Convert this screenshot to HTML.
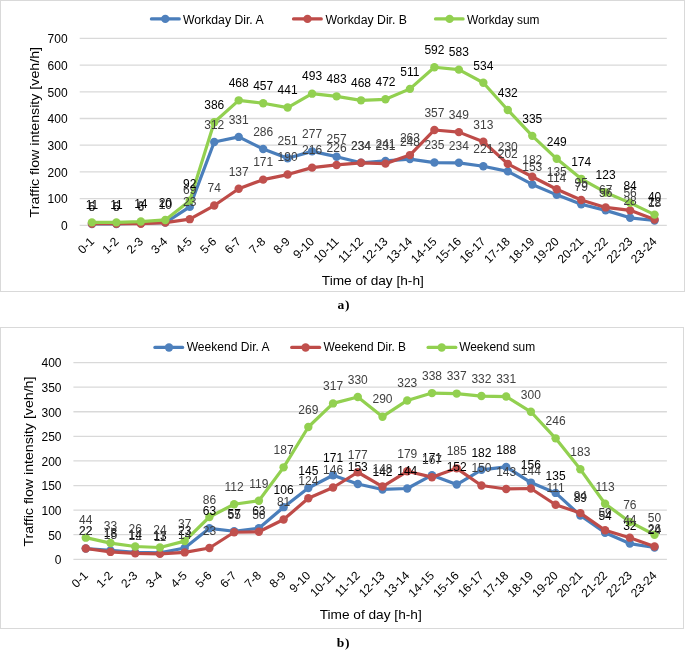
<!DOCTYPE html><html><head><meta charset="utf-8"><title>Traffic flow charts</title>
<style>html,body{margin:0;padding:0;background:#fff;}svg{display:block;will-change:transform;}</style></head><body>
<svg width="685" height="650" viewBox="0 0 685 650" font-family='"Liberation Sans", sans-serif'>
<rect x="0" y="0" width="685" height="650" fill="#fff"/>
<rect x="0.5" y="0.5" width="684" height="291" fill="none" stroke="#D9D9D9" stroke-width="1"/>
<rect x="0.5" y="327.5" width="683" height="301" fill="none" stroke="#D9D9D9" stroke-width="1"/>
<line x1="79.70" y1="225.30" x2="666.80" y2="225.30" stroke="#D9D9D9" stroke-width="1.3"/>
<text x="67.60" y="230.10" text-anchor="end" font-size="12.0" fill="#000">0</text>
<line x1="79.70" y1="198.60" x2="666.80" y2="198.60" stroke="#D9D9D9" stroke-width="1.3"/>
<text x="67.60" y="203.40" text-anchor="end" font-size="12.0" fill="#000">100</text>
<line x1="79.70" y1="171.90" x2="666.80" y2="171.90" stroke="#D9D9D9" stroke-width="1.3"/>
<text x="67.60" y="176.70" text-anchor="end" font-size="12.0" fill="#000">200</text>
<line x1="79.70" y1="145.20" x2="666.80" y2="145.20" stroke="#D9D9D9" stroke-width="1.3"/>
<text x="67.60" y="150.00" text-anchor="end" font-size="12.0" fill="#000">300</text>
<line x1="79.70" y1="118.50" x2="666.80" y2="118.50" stroke="#D9D9D9" stroke-width="1.3"/>
<text x="67.60" y="123.30" text-anchor="end" font-size="12.0" fill="#000">400</text>
<line x1="79.70" y1="91.80" x2="666.80" y2="91.80" stroke="#D9D9D9" stroke-width="1.3"/>
<text x="67.60" y="96.60" text-anchor="end" font-size="12.0" fill="#000">500</text>
<line x1="79.70" y1="65.10" x2="666.80" y2="65.10" stroke="#D9D9D9" stroke-width="1.3"/>
<text x="67.60" y="69.90" text-anchor="end" font-size="12.0" fill="#000">600</text>
<line x1="79.70" y1="38.40" x2="666.80" y2="38.40" stroke="#D9D9D9" stroke-width="1.3"/>
<text x="67.60" y="43.20" text-anchor="end" font-size="12.0" fill="#000">700</text>
<text transform="translate(94.93,242.30) rotate(-45)" text-anchor="end" font-size="12.0" fill="#000">0-1</text>
<text transform="translate(119.39,242.30) rotate(-45)" text-anchor="end" font-size="12.0" fill="#000">1-2</text>
<text transform="translate(143.86,242.30) rotate(-45)" text-anchor="end" font-size="12.0" fill="#000">2-3</text>
<text transform="translate(168.32,242.30) rotate(-45)" text-anchor="end" font-size="12.0" fill="#000">3-4</text>
<text transform="translate(192.78,242.30) rotate(-45)" text-anchor="end" font-size="12.0" fill="#000">4-5</text>
<text transform="translate(217.24,242.30) rotate(-45)" text-anchor="end" font-size="12.0" fill="#000">5-6</text>
<text transform="translate(241.71,242.30) rotate(-45)" text-anchor="end" font-size="12.0" fill="#000">6-7</text>
<text transform="translate(266.17,242.30) rotate(-45)" text-anchor="end" font-size="12.0" fill="#000">7-8</text>
<text transform="translate(290.63,242.30) rotate(-45)" text-anchor="end" font-size="12.0" fill="#000">8-9</text>
<text transform="translate(315.09,242.30) rotate(-45)" text-anchor="end" font-size="12.0" fill="#000">9-10</text>
<text transform="translate(339.56,242.30) rotate(-45)" text-anchor="end" font-size="12.0" fill="#000">10-11</text>
<text transform="translate(364.02,242.30) rotate(-45)" text-anchor="end" font-size="12.0" fill="#000">11-12</text>
<text transform="translate(388.48,242.30) rotate(-45)" text-anchor="end" font-size="12.0" fill="#000">12-13</text>
<text transform="translate(412.94,242.30) rotate(-45)" text-anchor="end" font-size="12.0" fill="#000">13-14</text>
<text transform="translate(437.41,242.30) rotate(-45)" text-anchor="end" font-size="12.0" fill="#000">14-15</text>
<text transform="translate(461.87,242.30) rotate(-45)" text-anchor="end" font-size="12.0" fill="#000">15-16</text>
<text transform="translate(486.33,242.30) rotate(-45)" text-anchor="end" font-size="12.0" fill="#000">16-17</text>
<text transform="translate(510.79,242.30) rotate(-45)" text-anchor="end" font-size="12.0" fill="#000">17-18</text>
<text transform="translate(535.26,242.30) rotate(-45)" text-anchor="end" font-size="12.0" fill="#000">18-19</text>
<text transform="translate(559.72,242.30) rotate(-45)" text-anchor="end" font-size="12.0" fill="#000">19-20</text>
<text transform="translate(584.18,242.30) rotate(-45)" text-anchor="end" font-size="12.0" fill="#000">20-21</text>
<text transform="translate(608.64,242.30) rotate(-45)" text-anchor="end" font-size="12.0" fill="#000">21-22</text>
<text transform="translate(633.11,242.30) rotate(-45)" text-anchor="end" font-size="12.0" fill="#000">22-23</text>
<text transform="translate(657.57,242.30) rotate(-45)" text-anchor="end" font-size="12.0" fill="#000">23-24</text>
<polyline points="91.93,223.97 116.39,223.97 140.86,223.16 165.32,222.63 189.78,206.88 214.24,142.00 238.71,136.92 263.17,148.94 287.63,158.28 312.09,151.34 336.56,156.68 361.02,162.82 385.48,160.95 409.94,159.08 434.41,162.56 458.87,162.82 483.33,166.29 507.79,171.37 532.26,184.45 556.72,194.86 581.18,204.21 605.64,210.35 630.11,217.82 654.57,220.49" fill="none" stroke="#4A7EBB" stroke-width="3.2" stroke-linejoin="round" stroke-linecap="round"/>
<circle cx="91.93" cy="223.97" r="4.2" fill="#4F81BD"/>
<circle cx="116.39" cy="223.97" r="4.2" fill="#4F81BD"/>
<circle cx="140.86" cy="223.16" r="4.2" fill="#4F81BD"/>
<circle cx="165.32" cy="222.63" r="4.2" fill="#4F81BD"/>
<circle cx="189.78" cy="206.88" r="4.2" fill="#4F81BD"/>
<circle cx="214.24" cy="142.00" r="4.2" fill="#4F81BD"/>
<circle cx="238.71" cy="136.92" r="4.2" fill="#4F81BD"/>
<circle cx="263.17" cy="148.94" r="4.2" fill="#4F81BD"/>
<circle cx="287.63" cy="158.28" r="4.2" fill="#4F81BD"/>
<circle cx="312.09" cy="151.34" r="4.2" fill="#4F81BD"/>
<circle cx="336.56" cy="156.68" r="4.2" fill="#4F81BD"/>
<circle cx="361.02" cy="162.82" r="4.2" fill="#4F81BD"/>
<circle cx="385.48" cy="160.95" r="4.2" fill="#4F81BD"/>
<circle cx="409.94" cy="159.08" r="4.2" fill="#4F81BD"/>
<circle cx="434.41" cy="162.56" r="4.2" fill="#4F81BD"/>
<circle cx="458.87" cy="162.82" r="4.2" fill="#4F81BD"/>
<circle cx="483.33" cy="166.29" r="4.2" fill="#4F81BD"/>
<circle cx="507.79" cy="171.37" r="4.2" fill="#4F81BD"/>
<circle cx="532.26" cy="184.45" r="4.2" fill="#4F81BD"/>
<circle cx="556.72" cy="194.86" r="4.2" fill="#4F81BD"/>
<circle cx="581.18" cy="204.21" r="4.2" fill="#4F81BD"/>
<circle cx="605.64" cy="210.35" r="4.2" fill="#4F81BD"/>
<circle cx="630.11" cy="217.82" r="4.2" fill="#4F81BD"/>
<circle cx="654.57" cy="220.49" r="4.2" fill="#4F81BD"/>
<polyline points="91.93,223.70 116.39,223.70 140.86,223.70 165.32,222.63 189.78,219.16 214.24,205.54 238.71,188.72 263.17,179.64 287.63,174.57 312.09,167.63 336.56,164.96 361.02,162.82 385.48,163.62 409.94,155.08 434.41,129.98 458.87,132.12 483.33,141.73 507.79,163.89 532.26,176.71 556.72,189.25 581.18,199.94 605.64,207.41 630.11,210.35 654.57,219.43" fill="none" stroke="#BE4B48" stroke-width="3.2" stroke-linejoin="round" stroke-linecap="round"/>
<circle cx="91.93" cy="223.70" r="4.2" fill="#C0504D"/>
<circle cx="116.39" cy="223.70" r="4.2" fill="#C0504D"/>
<circle cx="140.86" cy="223.70" r="4.2" fill="#C0504D"/>
<circle cx="165.32" cy="222.63" r="4.2" fill="#C0504D"/>
<circle cx="189.78" cy="219.16" r="4.2" fill="#C0504D"/>
<circle cx="214.24" cy="205.54" r="4.2" fill="#C0504D"/>
<circle cx="238.71" cy="188.72" r="4.2" fill="#C0504D"/>
<circle cx="263.17" cy="179.64" r="4.2" fill="#C0504D"/>
<circle cx="287.63" cy="174.57" r="4.2" fill="#C0504D"/>
<circle cx="312.09" cy="167.63" r="4.2" fill="#C0504D"/>
<circle cx="336.56" cy="164.96" r="4.2" fill="#C0504D"/>
<circle cx="361.02" cy="162.82" r="4.2" fill="#C0504D"/>
<circle cx="385.48" cy="163.62" r="4.2" fill="#C0504D"/>
<circle cx="409.94" cy="155.08" r="4.2" fill="#C0504D"/>
<circle cx="434.41" cy="129.98" r="4.2" fill="#C0504D"/>
<circle cx="458.87" cy="132.12" r="4.2" fill="#C0504D"/>
<circle cx="483.33" cy="141.73" r="4.2" fill="#C0504D"/>
<circle cx="507.79" cy="163.89" r="4.2" fill="#C0504D"/>
<circle cx="532.26" cy="176.71" r="4.2" fill="#C0504D"/>
<circle cx="556.72" cy="189.25" r="4.2" fill="#C0504D"/>
<circle cx="581.18" cy="199.94" r="4.2" fill="#C0504D"/>
<circle cx="605.64" cy="207.41" r="4.2" fill="#C0504D"/>
<circle cx="630.11" cy="210.35" r="4.2" fill="#C0504D"/>
<circle cx="654.57" cy="219.43" r="4.2" fill="#C0504D"/>
<polyline points="91.93,222.36 116.39,222.36 140.86,221.56 165.32,219.96 189.78,200.74 214.24,122.24 238.71,100.34 263.17,103.28 287.63,107.55 312.09,93.67 336.56,96.34 361.02,100.34 385.48,99.28 409.94,88.86 434.41,67.24 458.87,69.64 483.33,82.72 507.79,109.96 532.26,135.86 556.72,158.82 581.18,178.84 605.64,192.46 630.11,202.87 654.57,214.62" fill="none" stroke="#92D050" stroke-width="3.2" stroke-linejoin="round" stroke-linecap="round"/>
<circle cx="91.93" cy="222.36" r="4.2" fill="#92D050"/>
<circle cx="116.39" cy="222.36" r="4.2" fill="#92D050"/>
<circle cx="140.86" cy="221.56" r="4.2" fill="#92D050"/>
<circle cx="165.32" cy="219.96" r="4.2" fill="#92D050"/>
<circle cx="189.78" cy="200.74" r="4.2" fill="#92D050"/>
<circle cx="214.24" cy="122.24" r="4.2" fill="#92D050"/>
<circle cx="238.71" cy="100.34" r="4.2" fill="#92D050"/>
<circle cx="263.17" cy="103.28" r="4.2" fill="#92D050"/>
<circle cx="287.63" cy="107.55" r="4.2" fill="#92D050"/>
<circle cx="312.09" cy="93.67" r="4.2" fill="#92D050"/>
<circle cx="336.56" cy="96.34" r="4.2" fill="#92D050"/>
<circle cx="361.02" cy="100.34" r="4.2" fill="#92D050"/>
<circle cx="385.48" cy="99.28" r="4.2" fill="#92D050"/>
<circle cx="409.94" cy="88.86" r="4.2" fill="#92D050"/>
<circle cx="434.41" cy="67.24" r="4.2" fill="#92D050"/>
<circle cx="458.87" cy="69.64" r="4.2" fill="#92D050"/>
<circle cx="483.33" cy="82.72" r="4.2" fill="#92D050"/>
<circle cx="507.79" cy="109.96" r="4.2" fill="#92D050"/>
<circle cx="532.26" cy="135.86" r="4.2" fill="#92D050"/>
<circle cx="556.72" cy="158.82" r="4.2" fill="#92D050"/>
<circle cx="581.18" cy="178.84" r="4.2" fill="#92D050"/>
<circle cx="605.64" cy="192.46" r="4.2" fill="#92D050"/>
<circle cx="630.11" cy="202.87" r="4.2" fill="#92D050"/>
<circle cx="654.57" cy="214.62" r="4.2" fill="#92D050"/>
<text x="91.93" y="210.77" text-anchor="middle" font-size="12.0" fill="#404040">5</text>
<text x="116.39" y="210.77" text-anchor="middle" font-size="12.0" fill="#404040">5</text>
<text x="140.86" y="209.96" text-anchor="middle" font-size="12.0" fill="#404040">8</text>
<text x="165.32" y="209.43" text-anchor="middle" font-size="12.0" fill="#404040">10</text>
<text x="189.78" y="193.68" text-anchor="middle" font-size="12.0" fill="#404040">69</text>
<text x="214.24" y="128.80" text-anchor="middle" font-size="12.0" fill="#404040">312</text>
<text x="238.71" y="123.72" text-anchor="middle" font-size="12.0" fill="#404040">331</text>
<text x="263.17" y="135.74" text-anchor="middle" font-size="12.0" fill="#404040">286</text>
<text x="287.63" y="145.08" text-anchor="middle" font-size="12.0" fill="#404040">251</text>
<text x="312.09" y="138.14" text-anchor="middle" font-size="12.0" fill="#404040">277</text>
<text x="336.56" y="143.48" text-anchor="middle" font-size="12.0" fill="#404040">257</text>
<text x="361.02" y="149.62" text-anchor="middle" font-size="12.0" fill="#404040">234</text>
<text x="385.48" y="147.75" text-anchor="middle" font-size="12.0" fill="#404040">241</text>
<text x="409.94" y="145.88" text-anchor="middle" font-size="12.0" fill="#404040">248</text>
<text x="434.41" y="149.36" text-anchor="middle" font-size="12.0" fill="#404040">235</text>
<text x="458.87" y="149.62" text-anchor="middle" font-size="12.0" fill="#404040">234</text>
<text x="483.33" y="153.09" text-anchor="middle" font-size="12.0" fill="#404040">221</text>
<text x="507.79" y="158.17" text-anchor="middle" font-size="12.0" fill="#404040">202</text>
<text x="532.26" y="171.25" text-anchor="middle" font-size="12.0" fill="#404040">153</text>
<text x="556.72" y="181.66" text-anchor="middle" font-size="12.0" fill="#404040">114</text>
<text x="581.18" y="191.01" text-anchor="middle" font-size="12.0" fill="#404040">79</text>
<text x="605.64" y="197.15" text-anchor="middle" font-size="12.0" fill="#404040">56</text>
<text x="630.11" y="204.62" text-anchor="middle" font-size="12.0" fill="#404040">28</text>
<text x="654.57" y="207.29" text-anchor="middle" font-size="12.0" fill="#404040">18</text>
<text x="91.93" y="210.50" text-anchor="middle" font-size="12.0" fill="#404040">6</text>
<text x="116.39" y="210.50" text-anchor="middle" font-size="12.0" fill="#404040">6</text>
<text x="140.86" y="210.50" text-anchor="middle" font-size="12.0" fill="#404040">6</text>
<text x="165.32" y="209.43" text-anchor="middle" font-size="12.0" fill="#404040">10</text>
<text x="189.78" y="205.96" text-anchor="middle" font-size="12.0" fill="#404040">23</text>
<text x="214.24" y="192.34" text-anchor="middle" font-size="12.0" fill="#404040">74</text>
<text x="238.71" y="175.52" text-anchor="middle" font-size="12.0" fill="#404040">137</text>
<text x="263.17" y="166.44" text-anchor="middle" font-size="12.0" fill="#404040">171</text>
<text x="287.63" y="161.37" text-anchor="middle" font-size="12.0" fill="#404040">190</text>
<text x="312.09" y="154.43" text-anchor="middle" font-size="12.0" fill="#404040">216</text>
<text x="336.56" y="151.76" text-anchor="middle" font-size="12.0" fill="#404040">226</text>
<text x="361.02" y="149.62" text-anchor="middle" font-size="12.0" fill="#404040">234</text>
<text x="385.48" y="150.42" text-anchor="middle" font-size="12.0" fill="#404040">231</text>
<text x="409.94" y="141.88" text-anchor="middle" font-size="12.0" fill="#404040">263</text>
<text x="434.41" y="116.78" text-anchor="middle" font-size="12.0" fill="#404040">357</text>
<text x="458.87" y="118.92" text-anchor="middle" font-size="12.0" fill="#404040">349</text>
<text x="483.33" y="128.53" text-anchor="middle" font-size="12.0" fill="#404040">313</text>
<text x="507.79" y="150.69" text-anchor="middle" font-size="12.0" fill="#404040">230</text>
<text x="532.26" y="163.51" text-anchor="middle" font-size="12.0" fill="#404040">182</text>
<text x="556.72" y="176.06" text-anchor="middle" font-size="12.0" fill="#404040">135</text>
<text x="581.18" y="186.74" text-anchor="middle" font-size="12.0" fill="#404040">95</text>
<text x="605.64" y="194.21" text-anchor="middle" font-size="12.0" fill="#404040">67</text>
<text x="630.11" y="197.15" text-anchor="middle" font-size="12.0" fill="#404040">56</text>
<text x="654.57" y="206.23" text-anchor="middle" font-size="12.0" fill="#404040">22</text>
<text x="91.93" y="209.16" text-anchor="middle" font-size="12.0" fill="#000">11</text>
<text x="116.39" y="209.16" text-anchor="middle" font-size="12.0" fill="#000">11</text>
<text x="140.86" y="208.36" text-anchor="middle" font-size="12.0" fill="#000">14</text>
<text x="165.32" y="206.76" text-anchor="middle" font-size="12.0" fill="#000">20</text>
<text x="189.78" y="187.54" text-anchor="middle" font-size="12.0" fill="#000">92</text>
<text x="214.24" y="109.04" text-anchor="middle" font-size="12.0" fill="#000">386</text>
<text x="238.71" y="87.14" text-anchor="middle" font-size="12.0" fill="#000">468</text>
<text x="263.17" y="90.08" text-anchor="middle" font-size="12.0" fill="#000">457</text>
<text x="287.63" y="94.35" text-anchor="middle" font-size="12.0" fill="#000">441</text>
<text x="312.09" y="80.47" text-anchor="middle" font-size="12.0" fill="#000">493</text>
<text x="336.56" y="83.14" text-anchor="middle" font-size="12.0" fill="#000">483</text>
<text x="361.02" y="87.14" text-anchor="middle" font-size="12.0" fill="#000">468</text>
<text x="385.48" y="86.08" text-anchor="middle" font-size="12.0" fill="#000">472</text>
<text x="409.94" y="75.66" text-anchor="middle" font-size="12.0" fill="#000">511</text>
<text x="434.41" y="54.04" text-anchor="middle" font-size="12.0" fill="#000">592</text>
<text x="458.87" y="56.44" text-anchor="middle" font-size="12.0" fill="#000">583</text>
<text x="483.33" y="69.52" text-anchor="middle" font-size="12.0" fill="#000">534</text>
<text x="507.79" y="96.76" text-anchor="middle" font-size="12.0" fill="#000">432</text>
<text x="532.26" y="122.66" text-anchor="middle" font-size="12.0" fill="#000">335</text>
<text x="556.72" y="145.62" text-anchor="middle" font-size="12.0" fill="#000">249</text>
<text x="581.18" y="165.64" text-anchor="middle" font-size="12.0" fill="#000">174</text>
<text x="605.64" y="179.26" text-anchor="middle" font-size="12.0" fill="#000">123</text>
<text x="630.11" y="189.67" text-anchor="middle" font-size="12.0" fill="#000">84</text>
<text x="654.57" y="201.42" text-anchor="middle" font-size="12.0" fill="#000">40</text>
<text transform="translate(38.90,132.25) rotate(-90)" text-anchor="middle" font-size="13.0" fill="#000" textLength="170.5" lengthAdjust="spacingAndGlyphs">Traffic flow intensity [veh/h]</text>
<text x="372.80" y="284.50" text-anchor="middle" font-size="13.0" fill="#000" textLength="102.0" lengthAdjust="spacingAndGlyphs">Time of day [h-h]</text>
<line x1="151.40" y1="18.9" x2="179.30" y2="18.9" stroke="#4A7EBB" stroke-width="3.2" stroke-linecap="round"/>
<circle cx="165.3" cy="18.9" r="4.2" fill="#4F81BD"/>
<text x="183.0" y="23.90" font-size="12.0" fill="#000" textLength="80.6" lengthAdjust="spacingAndGlyphs">Workday Dir. A</text>
<line x1="293.50" y1="18.9" x2="321.30" y2="18.9" stroke="#BE4B48" stroke-width="3.2" stroke-linecap="round"/>
<circle cx="307.5" cy="18.9" r="4.2" fill="#C0504D"/>
<text x="325.5" y="23.90" font-size="12.0" fill="#000" textLength="81.5" lengthAdjust="spacingAndGlyphs">Workday Dir. B</text>
<line x1="435.50" y1="18.9" x2="463.10" y2="18.9" stroke="#92D050" stroke-width="3.2" stroke-linecap="round"/>
<circle cx="449.6" cy="18.9" r="4.2" fill="#92D050"/>
<text x="467.1" y="23.90" font-size="12.0" fill="#000" textLength="72.4" lengthAdjust="spacingAndGlyphs">Workday sum</text>
<line x1="73.40" y1="559.30" x2="666.90" y2="559.30" stroke="#D9D9D9" stroke-width="1.3"/>
<text x="61.50" y="564.10" text-anchor="end" font-size="12.0" fill="#000">0</text>
<line x1="73.40" y1="534.71" x2="666.90" y2="534.71" stroke="#D9D9D9" stroke-width="1.3"/>
<text x="61.50" y="539.51" text-anchor="end" font-size="12.0" fill="#000">50</text>
<line x1="73.40" y1="510.12" x2="666.90" y2="510.12" stroke="#D9D9D9" stroke-width="1.3"/>
<text x="61.50" y="514.92" text-anchor="end" font-size="12.0" fill="#000">100</text>
<line x1="73.40" y1="485.54" x2="666.90" y2="485.54" stroke="#D9D9D9" stroke-width="1.3"/>
<text x="61.50" y="490.34" text-anchor="end" font-size="12.0" fill="#000">150</text>
<line x1="73.40" y1="460.95" x2="666.90" y2="460.95" stroke="#D9D9D9" stroke-width="1.3"/>
<text x="61.50" y="465.75" text-anchor="end" font-size="12.0" fill="#000">200</text>
<line x1="73.40" y1="436.36" x2="666.90" y2="436.36" stroke="#D9D9D9" stroke-width="1.3"/>
<text x="61.50" y="441.16" text-anchor="end" font-size="12.0" fill="#000">250</text>
<line x1="73.40" y1="411.77" x2="666.90" y2="411.77" stroke="#D9D9D9" stroke-width="1.3"/>
<text x="61.50" y="416.57" text-anchor="end" font-size="12.0" fill="#000">300</text>
<line x1="73.40" y1="387.19" x2="666.90" y2="387.19" stroke="#D9D9D9" stroke-width="1.3"/>
<text x="61.50" y="391.99" text-anchor="end" font-size="12.0" fill="#000">350</text>
<line x1="73.40" y1="362.60" x2="666.90" y2="362.60" stroke="#D9D9D9" stroke-width="1.3"/>
<text x="61.50" y="367.40" text-anchor="end" font-size="12.0" fill="#000">400</text>
<text transform="translate(88.76,576.30) rotate(-45)" text-anchor="end" font-size="12.0" fill="#000">0-1</text>
<text transform="translate(113.49,576.30) rotate(-45)" text-anchor="end" font-size="12.0" fill="#000">1-2</text>
<text transform="translate(138.22,576.30) rotate(-45)" text-anchor="end" font-size="12.0" fill="#000">2-3</text>
<text transform="translate(162.95,576.30) rotate(-45)" text-anchor="end" font-size="12.0" fill="#000">3-4</text>
<text transform="translate(187.68,576.30) rotate(-45)" text-anchor="end" font-size="12.0" fill="#000">4-5</text>
<text transform="translate(212.41,576.30) rotate(-45)" text-anchor="end" font-size="12.0" fill="#000">5-6</text>
<text transform="translate(237.14,576.30) rotate(-45)" text-anchor="end" font-size="12.0" fill="#000">6-7</text>
<text transform="translate(261.87,576.30) rotate(-45)" text-anchor="end" font-size="12.0" fill="#000">7-8</text>
<text transform="translate(286.60,576.30) rotate(-45)" text-anchor="end" font-size="12.0" fill="#000">8-9</text>
<text transform="translate(311.33,576.30) rotate(-45)" text-anchor="end" font-size="12.0" fill="#000">9-10</text>
<text transform="translate(336.06,576.30) rotate(-45)" text-anchor="end" font-size="12.0" fill="#000">10-11</text>
<text transform="translate(360.79,576.30) rotate(-45)" text-anchor="end" font-size="12.0" fill="#000">11-12</text>
<text transform="translate(385.51,576.30) rotate(-45)" text-anchor="end" font-size="12.0" fill="#000">12-13</text>
<text transform="translate(410.24,576.30) rotate(-45)" text-anchor="end" font-size="12.0" fill="#000">13-14</text>
<text transform="translate(434.97,576.30) rotate(-45)" text-anchor="end" font-size="12.0" fill="#000">14-15</text>
<text transform="translate(459.70,576.30) rotate(-45)" text-anchor="end" font-size="12.0" fill="#000">15-16</text>
<text transform="translate(484.43,576.30) rotate(-45)" text-anchor="end" font-size="12.0" fill="#000">16-17</text>
<text transform="translate(509.16,576.30) rotate(-45)" text-anchor="end" font-size="12.0" fill="#000">17-18</text>
<text transform="translate(533.89,576.30) rotate(-45)" text-anchor="end" font-size="12.0" fill="#000">18-19</text>
<text transform="translate(558.62,576.30) rotate(-45)" text-anchor="end" font-size="12.0" fill="#000">19-20</text>
<text transform="translate(583.35,576.30) rotate(-45)" text-anchor="end" font-size="12.0" fill="#000">20-21</text>
<text transform="translate(608.08,576.30) rotate(-45)" text-anchor="end" font-size="12.0" fill="#000">21-22</text>
<text transform="translate(632.81,576.30) rotate(-45)" text-anchor="end" font-size="12.0" fill="#000">22-23</text>
<text transform="translate(657.54,576.30) rotate(-45)" text-anchor="end" font-size="12.0" fill="#000">23-24</text>
<polyline points="85.76,548.48 110.49,550.45 135.22,552.42 159.95,552.91 184.68,547.99 209.41,528.32 234.14,531.27 258.87,528.32 283.60,507.17 308.33,488.00 333.06,475.21 357.79,484.06 382.51,489.47 407.24,488.49 431.97,475.21 456.70,484.55 481.43,469.80 506.16,466.85 530.89,482.59 555.62,492.91 580.35,515.53 605.08,532.75 629.81,543.56 654.54,547.50" fill="none" stroke="#4A7EBB" stroke-width="3.2" stroke-linejoin="round" stroke-linecap="round"/>
<circle cx="85.76" cy="548.48" r="4.2" fill="#4F81BD"/>
<circle cx="110.49" cy="550.45" r="4.2" fill="#4F81BD"/>
<circle cx="135.22" cy="552.42" r="4.2" fill="#4F81BD"/>
<circle cx="159.95" cy="552.91" r="4.2" fill="#4F81BD"/>
<circle cx="184.68" cy="547.99" r="4.2" fill="#4F81BD"/>
<circle cx="209.41" cy="528.32" r="4.2" fill="#4F81BD"/>
<circle cx="234.14" cy="531.27" r="4.2" fill="#4F81BD"/>
<circle cx="258.87" cy="528.32" r="4.2" fill="#4F81BD"/>
<circle cx="283.60" cy="507.17" r="4.2" fill="#4F81BD"/>
<circle cx="308.33" cy="488.00" r="4.2" fill="#4F81BD"/>
<circle cx="333.06" cy="475.21" r="4.2" fill="#4F81BD"/>
<circle cx="357.79" cy="484.06" r="4.2" fill="#4F81BD"/>
<circle cx="382.51" cy="489.47" r="4.2" fill="#4F81BD"/>
<circle cx="407.24" cy="488.49" r="4.2" fill="#4F81BD"/>
<circle cx="431.97" cy="475.21" r="4.2" fill="#4F81BD"/>
<circle cx="456.70" cy="484.55" r="4.2" fill="#4F81BD"/>
<circle cx="481.43" cy="469.80" r="4.2" fill="#4F81BD"/>
<circle cx="506.16" cy="466.85" r="4.2" fill="#4F81BD"/>
<circle cx="530.89" cy="482.59" r="4.2" fill="#4F81BD"/>
<circle cx="555.62" cy="492.91" r="4.2" fill="#4F81BD"/>
<circle cx="580.35" cy="515.53" r="4.2" fill="#4F81BD"/>
<circle cx="605.08" cy="532.75" r="4.2" fill="#4F81BD"/>
<circle cx="629.81" cy="543.56" r="4.2" fill="#4F81BD"/>
<circle cx="654.54" cy="547.50" r="4.2" fill="#4F81BD"/>
<polyline points="85.76,548.48 110.49,551.92 135.22,553.40 159.95,553.89 184.68,552.42 209.41,547.99 234.14,532.25 258.87,531.76 283.60,519.47 308.33,498.32 333.06,487.50 357.79,472.26 382.51,486.52 407.24,471.28 431.97,477.18 456.70,468.33 481.43,485.54 506.16,488.98 530.89,488.49 555.62,504.72 580.35,513.08 605.08,530.29 629.81,537.66 654.54,546.51" fill="none" stroke="#BE4B48" stroke-width="3.2" stroke-linejoin="round" stroke-linecap="round"/>
<circle cx="85.76" cy="548.48" r="4.2" fill="#C0504D"/>
<circle cx="110.49" cy="551.92" r="4.2" fill="#C0504D"/>
<circle cx="135.22" cy="553.40" r="4.2" fill="#C0504D"/>
<circle cx="159.95" cy="553.89" r="4.2" fill="#C0504D"/>
<circle cx="184.68" cy="552.42" r="4.2" fill="#C0504D"/>
<circle cx="209.41" cy="547.99" r="4.2" fill="#C0504D"/>
<circle cx="234.14" cy="532.25" r="4.2" fill="#C0504D"/>
<circle cx="258.87" cy="531.76" r="4.2" fill="#C0504D"/>
<circle cx="283.60" cy="519.47" r="4.2" fill="#C0504D"/>
<circle cx="308.33" cy="498.32" r="4.2" fill="#C0504D"/>
<circle cx="333.06" cy="487.50" r="4.2" fill="#C0504D"/>
<circle cx="357.79" cy="472.26" r="4.2" fill="#C0504D"/>
<circle cx="382.51" cy="486.52" r="4.2" fill="#C0504D"/>
<circle cx="407.24" cy="471.28" r="4.2" fill="#C0504D"/>
<circle cx="431.97" cy="477.18" r="4.2" fill="#C0504D"/>
<circle cx="456.70" cy="468.33" r="4.2" fill="#C0504D"/>
<circle cx="481.43" cy="485.54" r="4.2" fill="#C0504D"/>
<circle cx="506.16" cy="488.98" r="4.2" fill="#C0504D"/>
<circle cx="530.89" cy="488.49" r="4.2" fill="#C0504D"/>
<circle cx="555.62" cy="504.72" r="4.2" fill="#C0504D"/>
<circle cx="580.35" cy="513.08" r="4.2" fill="#C0504D"/>
<circle cx="605.08" cy="530.29" r="4.2" fill="#C0504D"/>
<circle cx="629.81" cy="537.66" r="4.2" fill="#C0504D"/>
<circle cx="654.54" cy="546.51" r="4.2" fill="#C0504D"/>
<polyline points="85.76,537.66 110.49,543.07 135.22,546.51 159.95,547.50 184.68,541.11 209.41,517.01 234.14,504.22 258.87,500.78 283.60,467.34 308.33,427.02 333.06,403.42 357.79,397.02 382.51,416.69 407.24,400.46 431.97,393.09 456.70,393.58 481.43,396.04 506.16,396.53 530.89,411.77 555.62,438.33 580.35,469.31 605.08,503.73 629.81,521.93 654.54,534.71" fill="none" stroke="#92D050" stroke-width="3.2" stroke-linejoin="round" stroke-linecap="round"/>
<circle cx="85.76" cy="537.66" r="4.2" fill="#92D050"/>
<circle cx="110.49" cy="543.07" r="4.2" fill="#92D050"/>
<circle cx="135.22" cy="546.51" r="4.2" fill="#92D050"/>
<circle cx="159.95" cy="547.50" r="4.2" fill="#92D050"/>
<circle cx="184.68" cy="541.11" r="4.2" fill="#92D050"/>
<circle cx="209.41" cy="517.01" r="4.2" fill="#92D050"/>
<circle cx="234.14" cy="504.22" r="4.2" fill="#92D050"/>
<circle cx="258.87" cy="500.78" r="4.2" fill="#92D050"/>
<circle cx="283.60" cy="467.34" r="4.2" fill="#92D050"/>
<circle cx="308.33" cy="427.02" r="4.2" fill="#92D050"/>
<circle cx="333.06" cy="403.42" r="4.2" fill="#92D050"/>
<circle cx="357.79" cy="397.02" r="4.2" fill="#92D050"/>
<circle cx="382.51" cy="416.69" r="4.2" fill="#92D050"/>
<circle cx="407.24" cy="400.46" r="4.2" fill="#92D050"/>
<circle cx="431.97" cy="393.09" r="4.2" fill="#92D050"/>
<circle cx="456.70" cy="393.58" r="4.2" fill="#92D050"/>
<circle cx="481.43" cy="396.04" r="4.2" fill="#92D050"/>
<circle cx="506.16" cy="396.53" r="4.2" fill="#92D050"/>
<circle cx="530.89" cy="411.77" r="4.2" fill="#92D050"/>
<circle cx="555.62" cy="438.33" r="4.2" fill="#92D050"/>
<circle cx="580.35" cy="469.31" r="4.2" fill="#92D050"/>
<circle cx="605.08" cy="503.73" r="4.2" fill="#92D050"/>
<circle cx="629.81" cy="521.93" r="4.2" fill="#92D050"/>
<circle cx="654.54" cy="534.71" r="4.2" fill="#92D050"/>
<text x="85.76" y="535.28" text-anchor="middle" font-size="12.0" fill="#000">22</text>
<text x="110.49" y="537.25" text-anchor="middle" font-size="12.0" fill="#000">18</text>
<text x="135.22" y="539.22" text-anchor="middle" font-size="12.0" fill="#000">14</text>
<text x="159.95" y="539.71" text-anchor="middle" font-size="12.0" fill="#000">13</text>
<text x="184.68" y="534.79" text-anchor="middle" font-size="12.0" fill="#000">23</text>
<text x="209.41" y="515.12" text-anchor="middle" font-size="12.0" fill="#000">63</text>
<text x="234.14" y="518.07" text-anchor="middle" font-size="12.0" fill="#000">57</text>
<text x="258.87" y="515.12" text-anchor="middle" font-size="12.0" fill="#000">63</text>
<text x="283.60" y="493.97" text-anchor="middle" font-size="12.0" fill="#000">106</text>
<text x="308.33" y="474.80" text-anchor="middle" font-size="12.0" fill="#000">145</text>
<text x="333.06" y="462.01" text-anchor="middle" font-size="12.0" fill="#000">171</text>
<text x="357.79" y="470.86" text-anchor="middle" font-size="12.0" fill="#000">153</text>
<text x="382.51" y="476.27" text-anchor="middle" font-size="12.0" fill="#000">142</text>
<text x="407.24" y="475.29" text-anchor="middle" font-size="12.0" fill="#000">144</text>
<text x="431.97" y="462.01" text-anchor="middle" font-size="12.0" fill="#000">171</text>
<text x="456.70" y="471.35" text-anchor="middle" font-size="12.0" fill="#000">152</text>
<text x="481.43" y="456.60" text-anchor="middle" font-size="12.0" fill="#000">182</text>
<text x="506.16" y="453.65" text-anchor="middle" font-size="12.0" fill="#000">188</text>
<text x="530.89" y="469.39" text-anchor="middle" font-size="12.0" fill="#000">156</text>
<text x="555.62" y="479.71" text-anchor="middle" font-size="12.0" fill="#000">135</text>
<text x="580.35" y="502.33" text-anchor="middle" font-size="12.0" fill="#000">89</text>
<text x="605.08" y="519.55" text-anchor="middle" font-size="12.0" fill="#000">54</text>
<text x="629.81" y="530.36" text-anchor="middle" font-size="12.0" fill="#000">32</text>
<text x="654.54" y="534.30" text-anchor="middle" font-size="12.0" fill="#000">24</text>
<text x="85.76" y="535.28" text-anchor="middle" font-size="12.0" fill="#404040">22</text>
<text x="110.49" y="538.72" text-anchor="middle" font-size="12.0" fill="#404040">15</text>
<text x="135.22" y="540.20" text-anchor="middle" font-size="12.0" fill="#404040">12</text>
<text x="159.95" y="540.69" text-anchor="middle" font-size="12.0" fill="#404040">11</text>
<text x="184.68" y="539.22" text-anchor="middle" font-size="12.0" fill="#404040">14</text>
<text x="209.41" y="534.79" text-anchor="middle" font-size="12.0" fill="#404040">23</text>
<text x="234.14" y="519.05" text-anchor="middle" font-size="12.0" fill="#404040">55</text>
<text x="258.87" y="518.56" text-anchor="middle" font-size="12.0" fill="#404040">56</text>
<text x="283.60" y="506.27" text-anchor="middle" font-size="12.0" fill="#404040">81</text>
<text x="308.33" y="485.12" text-anchor="middle" font-size="12.0" fill="#404040">124</text>
<text x="333.06" y="474.30" text-anchor="middle" font-size="12.0" fill="#404040">146</text>
<text x="357.79" y="459.06" text-anchor="middle" font-size="12.0" fill="#404040">177</text>
<text x="382.51" y="473.32" text-anchor="middle" font-size="12.0" fill="#404040">148</text>
<text x="407.24" y="458.08" text-anchor="middle" font-size="12.0" fill="#404040">179</text>
<text x="431.97" y="463.98" text-anchor="middle" font-size="12.0" fill="#404040">167</text>
<text x="456.70" y="455.13" text-anchor="middle" font-size="12.0" fill="#404040">185</text>
<text x="481.43" y="472.34" text-anchor="middle" font-size="12.0" fill="#404040">150</text>
<text x="506.16" y="475.78" text-anchor="middle" font-size="12.0" fill="#404040">143</text>
<text x="530.89" y="475.29" text-anchor="middle" font-size="12.0" fill="#404040">144</text>
<text x="555.62" y="491.52" text-anchor="middle" font-size="12.0" fill="#404040">111</text>
<text x="580.35" y="499.88" text-anchor="middle" font-size="12.0" fill="#404040">94</text>
<text x="605.08" y="517.09" text-anchor="middle" font-size="12.0" fill="#404040">59</text>
<text x="629.81" y="524.46" text-anchor="middle" font-size="12.0" fill="#404040">44</text>
<text x="654.54" y="533.31" text-anchor="middle" font-size="12.0" fill="#404040">26</text>
<text x="85.76" y="524.46" text-anchor="middle" font-size="12.0" fill="#404040">44</text>
<text x="110.49" y="529.87" text-anchor="middle" font-size="12.0" fill="#404040">33</text>
<text x="135.22" y="533.31" text-anchor="middle" font-size="12.0" fill="#404040">26</text>
<text x="159.95" y="534.30" text-anchor="middle" font-size="12.0" fill="#404040">24</text>
<text x="184.68" y="527.91" text-anchor="middle" font-size="12.0" fill="#404040">37</text>
<text x="209.41" y="503.81" text-anchor="middle" font-size="12.0" fill="#404040">86</text>
<text x="234.14" y="491.02" text-anchor="middle" font-size="12.0" fill="#404040">112</text>
<text x="258.87" y="487.58" text-anchor="middle" font-size="12.0" fill="#404040">119</text>
<text x="283.60" y="454.14" text-anchor="middle" font-size="12.0" fill="#404040">187</text>
<text x="308.33" y="413.82" text-anchor="middle" font-size="12.0" fill="#404040">269</text>
<text x="333.06" y="390.22" text-anchor="middle" font-size="12.0" fill="#404040">317</text>
<text x="357.79" y="383.82" text-anchor="middle" font-size="12.0" fill="#404040">330</text>
<text x="382.51" y="403.49" text-anchor="middle" font-size="12.0" fill="#404040">290</text>
<text x="407.24" y="387.26" text-anchor="middle" font-size="12.0" fill="#404040">323</text>
<text x="431.97" y="379.89" text-anchor="middle" font-size="12.0" fill="#404040">338</text>
<text x="456.70" y="380.38" text-anchor="middle" font-size="12.0" fill="#404040">337</text>
<text x="481.43" y="382.84" text-anchor="middle" font-size="12.0" fill="#404040">332</text>
<text x="506.16" y="383.33" text-anchor="middle" font-size="12.0" fill="#404040">331</text>
<text x="530.89" y="398.57" text-anchor="middle" font-size="12.0" fill="#404040">300</text>
<text x="555.62" y="425.13" text-anchor="middle" font-size="12.0" fill="#404040">246</text>
<text x="580.35" y="456.11" text-anchor="middle" font-size="12.0" fill="#404040">183</text>
<text x="605.08" y="490.53" text-anchor="middle" font-size="12.0" fill="#404040">113</text>
<text x="629.81" y="508.73" text-anchor="middle" font-size="12.0" fill="#404040">76</text>
<text x="654.54" y="521.51" text-anchor="middle" font-size="12.0" fill="#404040">50</text>
<text transform="translate(33.10,461.60) rotate(-90)" text-anchor="middle" font-size="13.0" fill="#000" textLength="170.0" lengthAdjust="spacingAndGlyphs">Traffic flow intensity [veh/h]</text>
<text x="370.70" y="618.80" text-anchor="middle" font-size="13.0" fill="#000" textLength="102.0" lengthAdjust="spacingAndGlyphs">Time of day [h-h]</text>
<line x1="154.90" y1="347.45" x2="182.60" y2="347.45" stroke="#4A7EBB" stroke-width="3.2" stroke-linecap="round"/>
<circle cx="169.0" cy="347.45" r="4.2" fill="#4F81BD"/>
<text x="186.7" y="351.00" font-size="12.0" fill="#000" textLength="82.9" lengthAdjust="spacingAndGlyphs">Weekend Dir. A</text>
<line x1="291.70" y1="347.45" x2="319.60" y2="347.45" stroke="#BE4B48" stroke-width="3.2" stroke-linecap="round"/>
<circle cx="305.6" cy="347.45" r="4.2" fill="#C0504D"/>
<text x="323.5" y="351.00" font-size="12.0" fill="#000" textLength="82.5" lengthAdjust="spacingAndGlyphs">Weekend Dir. B</text>
<line x1="428.10" y1="347.45" x2="455.80" y2="347.45" stroke="#92D050" stroke-width="3.2" stroke-linecap="round"/>
<circle cx="441.7" cy="347.45" r="4.2" fill="#92D050"/>
<text x="459.2" y="351.00" font-size="12.0" fill="#000" textLength="76.0" lengthAdjust="spacingAndGlyphs">Weekend sum</text>
<text x="337.6" y="309.3" font-family='"Liberation Serif", serif' font-weight="bold" font-size="13.5" letter-spacing="0.6" fill="#000">a)</text>
<text x="336.8" y="647.3" font-family='"Liberation Serif", serif' font-weight="bold" font-size="13.5" letter-spacing="0.6" fill="#000">b)</text>
</svg></body></html>
